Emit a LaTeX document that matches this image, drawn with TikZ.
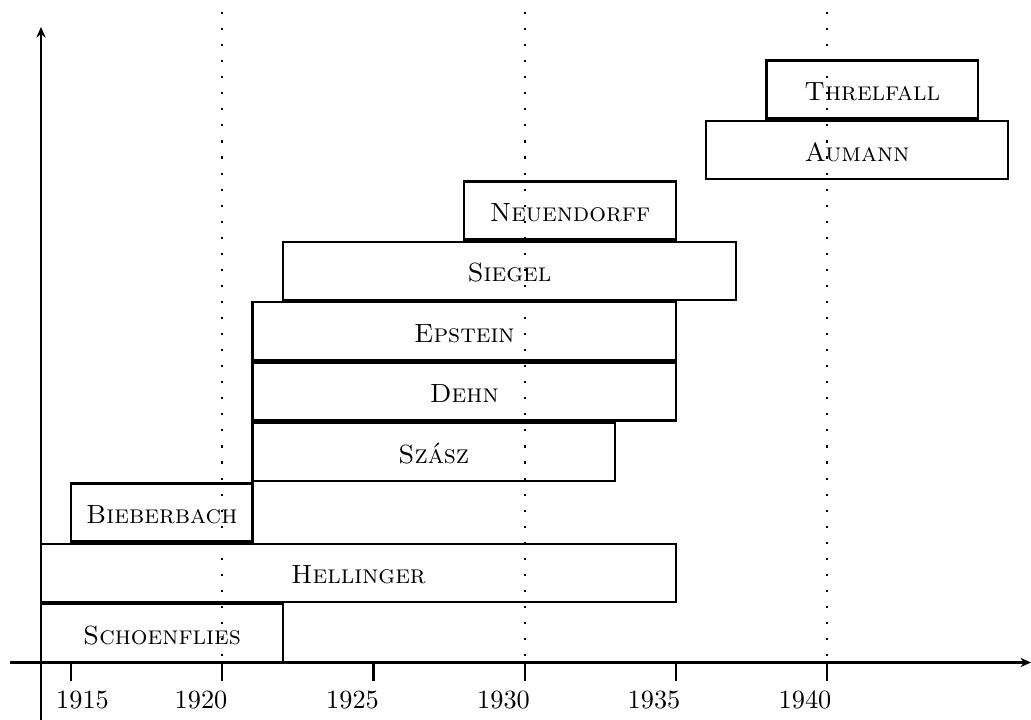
\documentclass[tikz,border=0pt]{standalone}
\usetikzlibrary{fit,arrows.meta}
\begin{document}
\begin{tikzpicture}[x=0.38pt,y=-0.38pt,
  tbox/.style={draw,line width=0.95pt,inner sep=0pt},
  tname/.style={anchor=base,inner sep=0pt,yshift=-4.2pt},
  axisline/.style={line width=1.05pt},
  tickline/.style={line width=1.05pt},
  guide/.style={line width=0.8pt,dash pattern=on 0.8pt off 5.3pt},
  yearlabel/.style={inner sep=0pt,anchor=center}]
\useasboundingbox (0,0) rectangle (1031,720);
% boxes
\node[tbox,fit={(41,604.2)(283,662.2)}] (schoenflies) {};
\node[tbox,fit={(41,543.8)(676,601.8)}] (hellinger) {};
\node[tbox,fit={(71,483.4)(252.6,541.4)}] (bieberbach) {};
\node[tbox,fit={(252.6,423.0)(615,481.0)}] (szasz) {};
\node[tbox,fit={(252.6,362.6)(676,420.6)}] (dehn) {};
\node[tbox,fit={(252.6,302.2)(676,360.2)}] (epstein) {};
\node[tbox,fit={(283,241.8)(736,299.8)}] (siegel) {};
\node[tbox,fit={(464,181.4)(676,239.4)}] (neuendorff) {};
\node[tbox,fit={(706,121.0)(1008,179.0)}] (aumann) {};
\node[tbox,fit={(766.5,60.6)(978,118.6)}] (threlfall) {};
% names
\node[tname] (nschoenflies) at (schoenflies.center) {\textsc{Schoenflies}};
\node[tname] (nhellinger) at (hellinger.center) {\textsc{Hellinger}};
\node[tname] (nbieberbach) at (bieberbach.center) {\textsc{Bieberbach}};
\node[tname] (nszasz) at (szasz.center) {\textsc{Szász}};
\node[tname] (ndehn) at (dehn.center) {\textsc{Dehn}};
\node[tname] (nepstein) at (epstein.center) {\textsc{Epstein}};
\node[tname] (nsiegel) at (siegel.center) {\textsc{Siegel}};
\node[tname] (nneuendorff) at (neuendorff.center) {\textsc{Neuendorff}};
\node[tname] (naumann) at (aumann.center) {\textsc{Aumann}};
\node[tname] (nthrelfall) at (threlfall.center) {\textsc{Threlfall}};
% guides
\coordinate (g1t) at (222,12); \coordinate (g1b) at (222,660);
\coordinate (g2t) at (525,12); \coordinate (g2b) at (525,660);
\coordinate (g3t) at (827,12); \coordinate (g3b) at (827,660);
\draw[guide] (g1t) -- (g1b);
\draw[guide] (g2t) -- (g2b);
\draw[guide] (g3t) -- (g3b);
% axes
\coordinate (xl) at (10,662.5); \coordinate (xr) at (1031,662.5);
\coordinate (yb) at (41,720); \coordinate (yt) at (41,27);
\draw[axisline,-{Stealth[length=4pt,width=3.5pt]}] (xl) -- (xr);
\draw[axisline,-{Stealth[length=4pt,width=3.5pt]}] (yb) -- (yt);
% ticks
\foreach \x/\lx/\yr in {71/82.5/1915,222/201/1920,373.3/352.5/1925,525/503.5/1930,676/654/1935,827/805/1940}{
  \coordinate (t\yr a) at (\x,662.5);
  \coordinate (t\yr b) at (\x,681);
  \draw[tickline] (t\yr a) -- (t\yr b);
  \node[yearlabel] (l\yr) at (\lx,700) {\yr};
}
\end{tikzpicture}
\end{document}
